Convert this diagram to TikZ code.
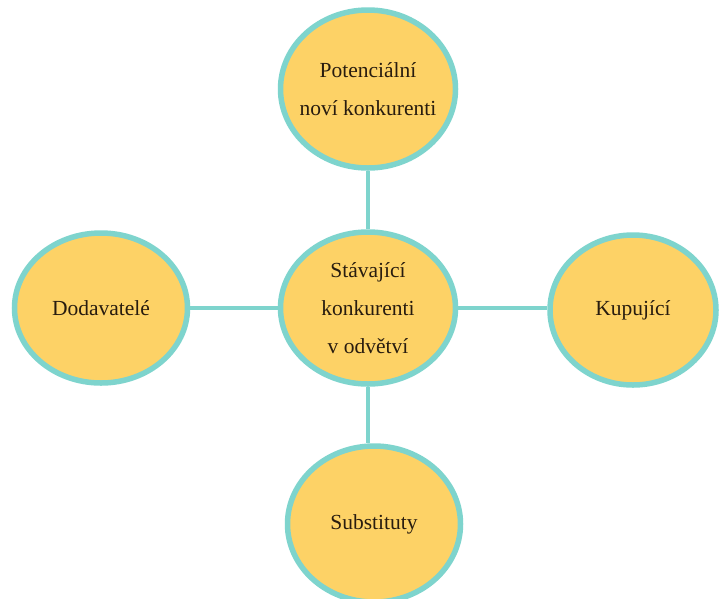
\documentclass[tikz,border=0pt]{standalone}
\usepackage{fontspec}
\setmainfont{Liberation Serif}
\usetikzlibrary{shapes.geometric}
\definecolor{fillY}{RGB}{253,210,102}
\definecolor{rimT}{RGB}{126,212,205}
\definecolor{txt}{RGB}{40,28,15}
\tikzset{
  oval/.style={ellipse, draw=rimT, line width=5.5pt, fill=fillY, inner sep=0pt},
  ovaltext/.style={text=txt, align=center, inner sep=0pt, font=\fontsize{21.5}{38}\selectfont},
  link/.style={draw=rimT, line width=4pt}
}
\begin{document}
\begin{tikzpicture}[x=1pt,y=-1pt]
\useasboundingbox (0,0) rectangle (719,598);
\clip (0,0) rectangle (719,598);
\fill[white] (0,0) rectangle (719,598);
\node[oval, minimum width=175pt, minimum height=158pt,
  label={[ovaltext]center:{Potenciální\\noví konkurenti}}] (top) at (368,89) {};
\node[oval, minimum width=175pt, minimum height=152pt,
  label={[ovaltext]center:{Stávající\\konkurenti\\v odvětví}}] (mid) at (368,308) {};
\node[oval, minimum width=173pt, minimum height=150pt,
  label={[ovaltext]center:{Dodavatelé}}] (left) at (101,308) {};
\node[oval, minimum width=166pt, minimum height=150pt,
  label={[ovaltext]center:{Kupující}}] (right) at (633,310) {};
\node[oval, minimum width=173pt, minimum height=156pt,
  label={[ovaltext]center:{Substituty}}] (bot) at (374,524) {};
\path[link] (top.south) -- (mid.north);
\path[link] (left.east) -- (mid.west);
\path[link] (mid.east) -- (mid.east -| right.west);
\path[link] (mid.south) -- (mid.south |- bot.north);
\end{tikzpicture}
\end{document}
